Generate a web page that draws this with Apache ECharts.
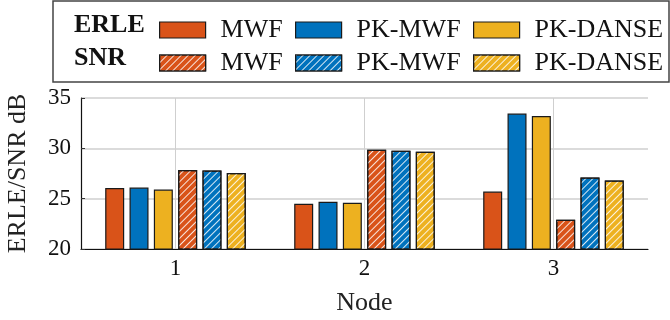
<!DOCTYPE html>
<html>
<head>
<meta charset="utf-8">
<script src="https://cdn.jsdelivr.net/npm/echarts@6/dist/echarts.min.js"></script>
<style>html,body{margin:0;padding:0;background:#fff}#c{width:670px;height:320px}</style>
</head>
<body>
<div id="c"></div>
<script>
const nodes = ['1', '2', '3'];
const erleMWF = [26.05, 24.5, 25.7];
const erlePKMWF = [26.1, 24.7, 33.45];
const erlePKDANSE = [25.9, 24.6, 33.2];
const snrMWF = [27.85, 29.85, 22.9];
const snrPKMWF = [27.8, 29.75, 27.1];
const snrPKDANSE = [27.55, 29.65, 26.8];
const yTicks = [20, 25, 30, 35];
const methods = ['MWF', 'PK-MWF', 'PK-DANSE'];
const colors = ['#D95319', '#0072BD', '#EDB120'];

const FONT = '"Liberation Serif", "DejaVu Serif", serif';
const hatch = {
  symbol: 'rect', symbolSize: 1, color: 'rgba(255,255,255,0.85)',
  dashArrayX: [1, 0], dashArrayY: [0.9, 3.6], rotation: -Math.PI / 4
};

function mkSeries(name, data, color, hatched) {
  return {
    name: name, type: 'bar', data: data,
    barWidth: 19, barGap: '28%',
    itemStyle: Object.assign({ color: color, borderColor: '#1a1a1a', borderWidth: 1.2 },
      hatched ? { decal: hatch } : {}),
    emphasis: { disabled: true }
  };
}

const series = [
  mkSeries('MWF ERLE', erleMWF, colors[0], false),
  mkSeries('PK-MWF ERLE', erlePKMWF, colors[1], false),
  mkSeries('PK-DANSE ERLE', erlePKDANSE, colors[2], false),
  mkSeries('MWF SNR', snrMWF, colors[0], true),
  mkSeries('PK-MWF SNR', snrPKMWF, colors[1], true),
  mkSeries('PK-DANSE SNR', snrPKDANSE, colors[2], true)
];

const legendX = [159, 295, 473];
const legendY = [17, 50];
const legends = [];
['ERLE', 'SNR'].forEach(function (kind, r) {
  methods.forEach(function (m, i) {
    legends.push({
      data: [m + ' ' + kind], left: legendX[i], top: legendY[r], padding: 0,
      itemWidth: 46, itemHeight: 16, selectedMode: false,
      icon: 'rect',
      itemStyle: { borderColor: '#1a1a1a', borderWidth: 1.2 },
      formatter: function (n) { return n.replace(/ (ERLE|SNR)$/, ''); },
      textStyle: { fontFamily: FONT, fontSize: 26, color: '#111', lineHeight: 16, padding: [0, 0, 0, 10] }
    });
  });
});

const chart = echarts.init(document.getElementById('c'), null, { renderer: 'canvas' });
chart.setOption({
  animation: false,
  backgroundColor: '#fff',
  grid: { left: 81, top: 98, width: 567, height: 151, containLabel: false, outerBoundsMode: 'none' },
  legend: legends,
  graphic: [
    { type: 'rect', shape: { x: 53, y: 1, width: 616, height: 81 },
      style: { fill: 'none', stroke: '#444', lineWidth: 1.5 } },
    { type: 'text', x: 74, y: 25, style: { text: 'ERLE', font: 'bold 26px ' + FONT, fill: '#111', verticalAlign: 'middle' } },
    { type: 'text', x: 74, y: 58, style: { text: 'SNR', font: 'bold 26px ' + FONT, fill: '#111', verticalAlign: 'middle' } }
  ],
  xAxis: {
    type: 'category', data: nodes,
    name: 'Node', nameLocation: 'middle', nameGap: 41,
    nameTextStyle: { fontFamily: FONT, fontSize: 26, color: '#222' },
    axisLine: { lineStyle: { color: '#111', width: 1.2 } },
    axisTick: { show: false, alignWithLabel: true },
    axisLabel: { fontFamily: FONT, fontSize: 23, color: '#111', margin: 8 },
    splitLine: { show: true, alignWithLabel: true, lineStyle: { color: '#cfcfcf', width: 1 } }
  },
  yAxis: {
    type: 'value', min: yTicks[0], max: yTicks[yTicks.length - 1], interval: 5,
    name: 'ERLE/SNR dB', nameLocation: 'middle', nameGap: 50,
    nameTextStyle: { fontFamily: FONT, fontSize: 26, color: '#222' },
    axisLine: { show: true, lineStyle: { color: '#111', width: 1.2 } },
    axisTick: { show: true, inside: true, length: 4, lineStyle: { color: '#333' } },
    axisLabel: { fontFamily: FONT, fontSize: 23, color: '#111', margin: 10 },
    splitLine: { show: true, lineStyle: { color: '#cfcfcf', width: 1.5 } }
  },
  series: series
});
</script>
</body>
</html>
